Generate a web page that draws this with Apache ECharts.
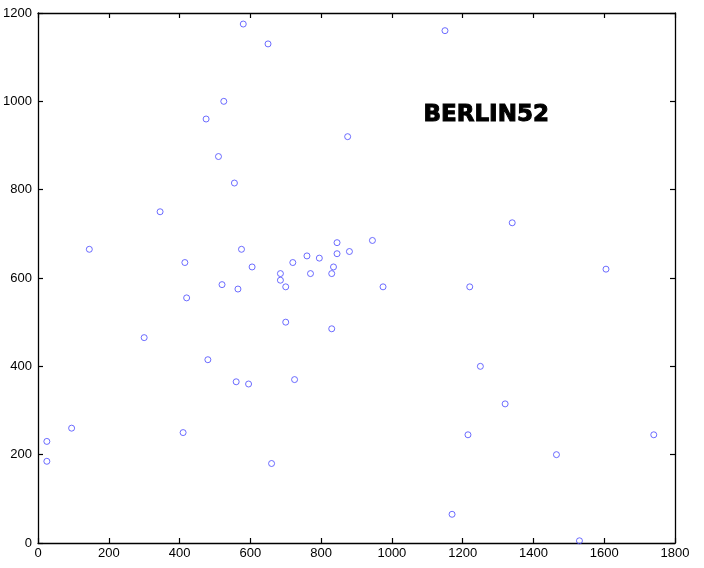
<!DOCTYPE html>
<html><head><meta charset="utf-8">
<script src="https://cdn.jsdelivr.net/npm/echarts@6/dist/echarts.min.js"></script>
<style>html,body{margin:0;padding:0;background:#fff}#c{width:704px;height:568px}</style>
</head><body><div id="c"></div>
<script>
const xs = [565,25,345,945,845,880,25,525,580,650,1605,1220,1465,1530,845,725,145,415,510,560,300,520,480,835,975,1215,1320,1250,660,410,420,575,1150,700,685,685,770,795,720,760,475,95,875,700,555,830,1170,830,605,595,1340,1740];
const ys = [575,185,750,685,655,660,230,1000,1175,1130,620,580,200,5,680,370,665,635,875,365,465,585,415,625,580,245,315,400,180,250,555,665,1160,580,595,610,610,645,635,650,960,260,920,500,815,485,65,610,625,360,725,245];
const titleText = 'BERLIN52';
const xTicks = [0,200,400,600,800,1000,1200,1400,1600,1800];
const yTicks = [0,200,400,600,800,1000,1200];

const chart = echarts.init(document.getElementById('c'), null, {renderer:'canvas'});
const font = 'Liberation Sans, Arial, sans-serif';
const axLine = {show:true, onZero:false, lineStyle:{color:'#000', width:1.3}};
const axTick = {show:true, inside:true, length:5, lineStyle:{color:'#000', width:1.2}};
const fmt = v => String(v);
chart.setOption({
  animation:false,
  grid:{left:38, top:13, width:637, height:530, containLabel:false, outerBoundsMode:'none'},
  xAxis:[
    {type:'value', min:xTicks[0], max:xTicks[xTicks.length-1], interval:200, position:'bottom', axisLine:axLine, axisTick:axTick,
     splitLine:{show:false}, axisLabel:{color:'#000', fontSize:13, fontFamily:font, margin:4, formatter:fmt}},
    {type:'value', min:xTicks[0], max:xTicks[xTicks.length-1], interval:200, position:'top', axisLine:axLine, axisTick:axTick,
     splitLine:{show:false}, axisLabel:{show:false}}
  ],
  yAxis:[
    {type:'value', min:yTicks[0], max:yTicks[yTicks.length-1], interval:200, position:'left', axisLine:axLine, axisTick:axTick,
     splitLine:{show:false}, axisLabel:{color:'#000', fontSize:13, fontFamily:font, margin:6, formatter:fmt}},
    {type:'value', min:yTicks[0], max:yTicks[yTicks.length-1], interval:200, position:'right', axisLine:axLine, axisTick:axTick,
     splitLine:{show:false}, axisLabel:{show:false}}
  ],
  graphic:[{type:'text', left:423, top:103, style:{text:titleText, font:'bold 23px DejaVu Sans, sans-serif', fill:'#000', stroke:'#000', lineWidth:1}}],
  series:[{
    type:'scatter', xAxisIndex:0, yAxisIndex:0,
    data: xs.map((x,i)=>[x, ys[i]]),
    symbol:'circle', symbolSize:6,
    itemStyle:{color:'rgba(0,0,0,0)', borderColor:'#4848ff', borderWidth:1}
  }]
});
</script></body></html>
